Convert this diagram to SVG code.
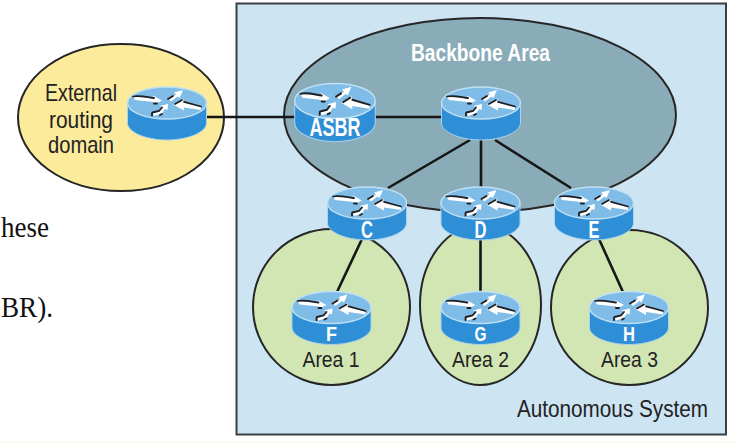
<svg xmlns="http://www.w3.org/2000/svg" width="737" height="443" viewBox="0 0 737 443">
<style>
.zone{stroke:#262626;stroke-width:2}
.as{fill:#cde4f2;stroke:#3a3f42;stroke-width:2}
.area{fill:#d2e6b4}
.link{stroke:#161616;stroke-width:2.600;fill:none}
.t{font-family:"Liberation Sans",Arial,sans-serif;fill:#222;text-anchor:middle;font-size:24px}
.al{font-size:22px}
.r{font-family:"Liberation Sans",Arial,sans-serif;fill:#fff;font-weight:bold;text-anchor:middle;font-size:23px}
.rs{font-size:21px}
.p{font-family:"Liberation Serif","Times New Roman",serif;fill:#111;font-size:29px}
.ag{fill:#fff}
.ad{fill:none;stroke:#1f1f1f;stroke-width:1.800;stroke-linecap:round}
</style>
<defs>
<g id="router">
<path d="M-39.500,0V20C-39.500,29 -21.500,37 0,37S39.500,29 39.500,20V0Z" fill="#2f8fd6" stroke="#a9d2ec" stroke-width="1"/>
<ellipse cx="0" cy="0" rx="39.500" ry="16" fill="#7fbce8" stroke="#bfe0f3" stroke-width="1.400"/>
<path class="ag" d="M-34,-6.500L-13,-4.500L-14,-7.500L-5,-2.500L-12,1L-13,-1L-32,-3Z"/>
<path class="ad" d="M-34,-6.500C-28,-8 -20,-6 -13,-5M-13,.5L-10,.5"/>
<path class="ag" d="M1,-4.500L9,-8.500L7,-10.500L16,-13L12.500,-5L10.500,-6.500L4,-1.500Z"/>
<path class="ad" d="M1,-4L6,-7"/>
<path class="ag" d="M34,7L17,4.500L17,7.500L6,1.500L16,-4.500L17,-1.500L34,3.500Z"/>
<path class="ad" d="M34,3.500L17,-1.200M8,1L15,-3"/>
<path class="ag" d="M-15,9.500L-8,8L-5,4L-7.500,3L1,1L.5,7L-2,6L-5,10.500L-13,13Z"/>
<path class="ad" d="M-15,10L-15,12.500M-14.500,9.500L-8,8L-5,4.500M-7,12L-5,11"/>
</g>
</defs>
<rect x="0" y="442" width="737" height="1" fill="#fff4e8"/>
<text class="p" x="1" y="237" textLength="48" lengthAdjust="spacingAndGlyphs">hese</text>
<text class="p" x="1" y="317" textLength="52" lengthAdjust="spacingAndGlyphs">BR).</text>

<g id="autonomous-system">
<rect class="as" x="236.500" y="3.500" width="489.500" height="431"/>
<text class="t" x="612.500" y="417" textLength="191" lengthAdjust="spacingAndGlyphs">Autonomous System</text>
</g>
<g id="external-domain">
<ellipse class="zone" cx="121" cy="117.500" rx="103" ry="73.500" fill="#fdeb9c"/>
<text class="t" x="81" y="101" textLength="72" lengthAdjust="spacingAndGlyphs">External</text>
<text class="t" x="81" y="128" textLength="64" lengthAdjust="spacingAndGlyphs">routing</text>
<text class="t" x="81" y="153" textLength="66" lengthAdjust="spacingAndGlyphs">domain</text>
</g>
<g id="backbone-area">
<ellipse class="zone" cx="480" cy="115" rx="196" ry="97" fill="#8aacb8"/>
<text class="r" x="480.500" y="61" textLength="139" lengthAdjust="spacingAndGlyphs">Backbone Area</text>
</g>
<g id="area-1">
<ellipse class="zone area" cx="331.500" cy="307" rx="78.500" ry="78"/>
<text class="t al" x="331" y="367" textLength="57" lengthAdjust="spacingAndGlyphs">Area 1</text>
</g>
<g id="area-2">
<ellipse class="zone area" cx="480.500" cy="305" rx="60.500" ry="80"/>
<text class="t al" x="480.500" y="367" textLength="57" lengthAdjust="spacingAndGlyphs">Area 2</text>
</g>
<g id="area-3">
<ellipse class="zone area" cx="629.500" cy="307.500" rx="78.500" ry="77.500"/>
<text class="t al" x="629.500" y="367" textLength="57" lengthAdjust="spacingAndGlyphs">Area 3</text>
</g>

<g id="connectors">
<path class="link" d="M207,117H296"/>
<path class="link" d="M374,117H443"/>
<path class="link" d="M470,140L388,188"/>
<path class="link" d="M481,139V188"/>
<path class="link" d="M495,140L571,188"/>
<path class="link" d="M362,239L337,292"/>
<path class="link" d="M480.500,238V293"/>
<path class="link" d="M599,239L623,292"/>
</g>

<g id="router-external"><use href="#router" x="167" y="103"/></g>
<g id="router-asbr"><use href="#router" transform="translate(335,101) scale(1.020,1.100)"/><text class="r" x="335" y="136" style="font-size:25px" textLength="51" lengthAdjust="spacingAndGlyphs">ASBR</text></g>
<g id="router-backbone"><use href="#router" x="481" y="103"/></g>
<g id="router-c"><use href="#router" x="367" y="203"/><text class="r" x="367" y="238" textLength="12" lengthAdjust="spacingAndGlyphs">C</text></g>
<g id="router-d"><use href="#router" x="480.500" y="203"/><text class="r" x="480.500" y="238" textLength="12" lengthAdjust="spacingAndGlyphs">D</text></g>
<g id="router-e"><use href="#router" x="594" y="203"/><text class="r" x="594" y="238" textLength="11" lengthAdjust="spacingAndGlyphs">E</text></g>
<g id="router-f"><use href="#router" x="331.500" y="307.500"/><text class="r rs" x="331.500" y="341" textLength="11" lengthAdjust="spacingAndGlyphs">F</text></g>
<g id="router-g"><use href="#router" x="480.500" y="307.500"/><text class="r rs" x="480.500" y="341" textLength="12" lengthAdjust="spacingAndGlyphs">G</text></g>
<g id="router-h"><use href="#router" x="629" y="307.500"/><text class="r rs" x="629" y="341" textLength="12" lengthAdjust="spacingAndGlyphs">H</text></g>
</svg>
